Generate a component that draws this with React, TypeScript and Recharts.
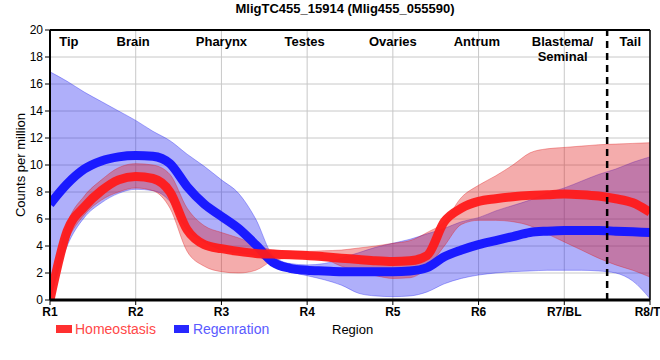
import React from 'react';
import {
  ComposedChart, Area, Line, XAxis, YAxis, CartesianGrid, ReferenceLine
} from 'recharts';

// region positions along the body (R1..R8), sampled every 0.2
const xs = [
  1.0, 1.2, 1.4, 1.6, 1.8, 2.0, 2.2, 2.4, 2.6, 2.8,
  3.0, 3.2, 3.4, 3.6, 3.8, 4.0, 4.2, 4.4, 4.6, 4.8,
  5.0, 5.2, 5.4, 5.6, 5.8, 6.0, 6.2, 6.4, 6.6, 6.8,
  7.0, 7.2, 7.4, 7.6, 7.8, 8.0,
];

const homeoMean = [
  0, 5.1, 6.9, 8.1, 8.9, 9.15, 9.0, 8.0, 5.2, 4.1,
  3.8, 3.6, 3.45, 3.4, 3.35, 3.3, 3.2, 3.1, 3.0, 2.9,
  2.85, 2.9, 3.3, 5.8, 6.8, 7.3, 7.5, 7.65, 7.75, 7.8,
  7.85, 7.8, 7.7, 7.5, 7.2, 6.5,
];
const homeoHigh = [
  0, 5.6, 7.7, 8.9, 9.8, 10.1, 10.0, 9.3, 6.8, 5.5,
  5.0, 4.6, 4.1, 3.7, 3.6, 3.6, 3.65, 3.7, 3.85, 4.0,
  4.2, 4.4, 5.0, 5.8, 7.6, 8.5, 9.2, 10.0, 10.9, 11.2,
  11.3, 11.4, 11.5, 11.55, 11.6, 11.65,
];
const homeoLow = [
  0, 4.3, 6.3, 7.4, 8.0, 8.3, 8.1, 6.8, 3.6, 2.5,
  2.1, 2.0, 2.2, 2.9, 3.1, 3.1, 3.0, 2.5, 2.1, 1.8,
  1.6, 1.65, 2.4, 4.0, 5.6, 5.9, 5.9, 5.8, 5.5, 4.9,
  4.3, 3.7, 3.1, 2.6, 2.2, 1.7,
];

const regenMean = [
  7.1, 8.6, 9.7, 10.3, 10.6, 10.7, 10.65, 10.1, 8.4, 7.1,
  6.2, 5.3, 4.1, 2.8, 2.35, 2.2, 2.15, 2.1, 2.1, 2.1,
  2.1, 2.15, 2.4, 3.2, 3.7, 4.1, 4.4, 4.7, 5.0, 5.1,
  5.15, 5.15, 5.15, 5.1, 5.05, 5.0,
];
const regenHigh = [
  16.9, 16.2, 15.4, 14.7, 14.0, 13.3, 12.5, 11.8, 10.8, 9.9,
  8.9, 7.9, 6.0, 3.3, 2.7, 2.6, 2.7, 3.1, 3.5, 3.9,
  4.2, 4.5, 4.9, 5.3, 5.8, 6.1, 6.6, 7.0, 7.4, 7.9,
  8.3, 8.8, 9.3, 9.7, 10.2, 10.6,
];
const regenLow = [
  0, 4.0, 6.1, 7.2, 7.9, 8.2, 8.1, 7.3, 5.2, 4.3,
  3.7, 3.5, 3.3, 2.6, 2.1, 1.8, 1.5, 1.1, 0.5, 0.3,
  0.25, 0.3, 0.6, 1.2, 1.6, 1.85, 2.0, 2.1, 2.15, 2.2,
  2.2, 2.2, 2.15, 2.0, 1.4, 0.1,
];

const xTicks = [1, 2, 3, 4, 5, 6, 7, 8];
const xTickLabels = ['R1', 'R2', 'R3', 'R4', 'R5', 'R6', 'R7/BL', 'R8/T'];
const yTicks = [0, 2, 4, 6, 8, 10, 12, 14, 16, 18, 20];

const regions = [
  { x: 1.22, name: ['Tip'] },
  { x: 1.97, name: ['Brain'] },
  { x: 3.0, name: ['Pharynx'] },
  { x: 3.97, name: ['Testes'] },
  { x: 5.0, name: ['Ovaries'] },
  { x: 5.98, name: ['Antrum'] },
  { x: 6.98, name: ['Blastema/', 'Seminal'] },
  { x: 7.77, name: ['Tail'] },
];

const data = xs.map((x, i) => ({
  x,
  homeo: homeoMean[i],
  homeoBand: [homeoLow[i], homeoHigh[i]],
  regen: regenMean[i],
  regenBand: [regenLow[i], regenHigh[i]],
}));

const FONT = '"Liberation Sans", Arial, sans-serif';

const RegionLabel = ({ viewBox, lines }: any) => {
  const cx = viewBox.x;
  return (
    <text x={cx} y={46} textAnchor="middle" fontFamily={FONT} fontSize={13} fontWeight="bold" fill="#000">
      {lines.map((l: string, i: number) => (
        <tspan key={i} x={cx} dy={i === 0 ? 0 : 15}>{l}</tspan>
      ))}
    </text>
  );
};

export default function App() {
  return (
    <div style={{ position: 'absolute', left: 0, top: 0, width: 660, height: 360, background: '#fff', fontFamily: FONT }}>
      <div style={{ position: 'absolute', top: 1, left: 0, width: 690, textAlign: 'center', fontSize: 13, fontWeight: 'bold' }}>
        MligTC455_15914 (Mlig455_055590)
      </div>
      <ComposedChart width={660} height={360} data={data} margin={{ top: 30, right: 10, bottom: 30, left: 0 }}>
        <CartesianGrid stroke="#c8c8c8" strokeWidth={1} />
        <XAxis
          dataKey="x"
          type="number"
          domain={[1, 8]}
          ticks={xTicks}
          tickFormatter={(v) => xTickLabels[xTicks.indexOf(v)]}
          tick={{ fontSize: 12, fontWeight: 'bold', fill: '#000', fontFamily: FONT }}
          axisLine={{ stroke: '#000', strokeWidth: 3 }}
          tickLine={{ stroke: '#000', strokeWidth: 1 }}
          tickSize={5}
          height={30}
          allowDataOverflow
        />
        <YAxis
          type="number"
          domain={[0, 20]}
          ticks={yTicks}
          width={50}
          tick={{ fontSize: 12, fill: '#000', fontFamily: FONT }}
          axisLine={{ stroke: '#000', strokeWidth: 2 }}
          tickLine={{ stroke: '#000' }}
          tickSize={5}
          label={{
            value: 'Counts per million', angle: -90, position: 'insideLeft', offset: 20,
            style: { fontSize: 13, fill: '#000', fontFamily: FONT, textAnchor: 'middle' },
          }}
        />
        <Area type="monotone" dataKey="regenBand" fill="#2020f0" fillOpacity={0.36}
          stroke="#2020f0" strokeOpacity={0.35} strokeWidth={1} isAnimationActive={false} />
        <Line type="monotone" dataKey="regen" stroke="#1a1aff" strokeWidth={9} dot={false} isAnimationActive={false} />
        <Area type="monotone" dataKey="homeoBand" fill="#e01818" fillOpacity={0.36}
          stroke="#e01818" strokeOpacity={0.35} strokeWidth={1} isAnimationActive={false} />
        <Line type="monotone" dataKey="homeo" stroke="#ff1a1a" strokeOpacity={0.95} strokeWidth={9} dot={false} isAnimationActive={false} />
        <ReferenceLine y={20} stroke="#000" strokeWidth={2} />
        <ReferenceLine x={8} stroke="#000" strokeWidth={1.5} />
        <ReferenceLine x={7.5} stroke="#000" strokeWidth={2.5} strokeDasharray="7 5" />
        {regions.map((r) => (
          <ReferenceLine key={r.x} x={r.x} stroke="none" label={<RegionLabel lines={r.name} />} />
        ))}
      </ComposedChart>
      <div style={{ position: 'absolute', top: 321, left: 56, display: 'flex', alignItems: 'center', fontSize: 14 }}>
        <span style={{ display: 'inline-block', width: 16, height: 8, background: '#ff3030', marginRight: 3 }} />
        <span style={{ color: '#ff4848' }}>Homeostasis</span>
        <span style={{ display: 'inline-block', width: 15, height: 8, background: '#2828ff', marginLeft: 18, marginRight: 4 }} />
        <span style={{ color: '#5a5aff' }}>Regenration</span>
      </div>
      <div style={{ position: 'absolute', top: 322, left: 332, fontSize: 13, color: '#000' }}>Region</div>
    </div>
  );
}
